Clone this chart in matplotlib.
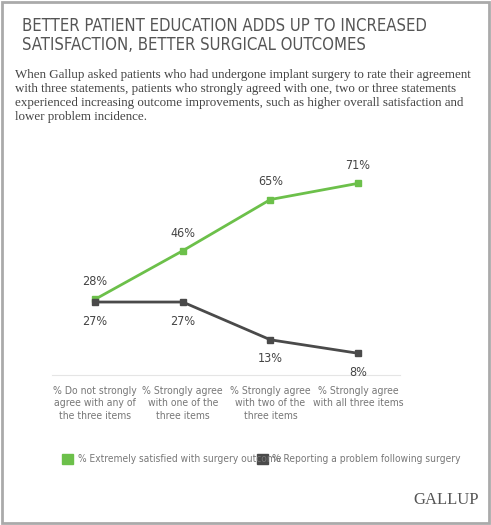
import matplotlib
matplotlib.use("Agg")
import matplotlib.pyplot as plt
from matplotlib.patches import Rectangle

categories = ["% Do not strongly\nagree with any of\nthe three items",
              "% Strongly agree\nwith one of the\nthree items",
              "% Strongly agree\nwith two of the\nthree items",
              "% Strongly agree\nwith all three items"]
satisfied = [28, 46, 65, 71]
problem = [27, 27, 13, 8]
green = "#6cc04a"
dark = "#4a4a4a"
NF = dict(family="DejaVu Sans", fontstretch="condensed")

fig = plt.figure(figsize=(4.91, 5.25), dpi=100)
fig.patches.append(Rectangle((0.004, 0.004), 0.992, 0.992, transform=fig.transFigure,
                             fill=False, edgecolor="#aaaaaa", lw=2))
fig.text(0.045, 0.968, "BETTER PATIENT EDUCATION ADDS UP TO INCREASED\nSATISFACTION, BETTER SURGICAL OUTCOMES",
         ha="left", va="top", fontsize=12, color="#555555", linespacing=1.1, **NF)
fig.text(0.03, 0.868, "When Gallup asked patients who had undergone implant surgery to rate their agreement\n"
         "with three statements, patients who strongly agreed with one, two or three statements\n"
         "experienced increasing outcome improvements, such as higher overall satisfaction and\n"
         "lower problem incidence.", ha="left", va="top", fontsize=9.4, color="#444444",
         family="Liberation Serif", linespacing=1.2)

ax = fig.add_axes([0.106, 0.286, 0.709, 0.411])
x = list(range(len(categories)))
ax.plot(x, satisfied, color=green, lw=2, marker="s", ms=5)
ax.plot(x, problem, color=dark, lw=2, marker="s", ms=5)
ax.set_xlim(-0.49, 3.48)
ax.set_ylim(0, 80)
for s in ["top", "right", "left"]:
    ax.spines[s].set_visible(False)
ax.spines["bottom"].set_color("#e5e5e5")
ax.set_yticks([])
ax.set_xticks([])
for i in x:
    ax.annotate(f"{satisfied[i]}%", (i, satisfied[i]), xytext=(0, 8), textcoords="offset points",
                ha="center", va="bottom", fontsize=9, color="#444444", **NF)
    ax.annotate(f"{problem[i]}%", (i, problem[i]), xytext=(0, -9), textcoords="offset points",
                ha="center", va="top", fontsize=9, color="#444444", **NF)
    ax.text(i, -4, categories[i], ha="center", va="top", fontsize=7.5, color="#777777",
            linespacing=1.35, **NF)

fig.patches.append(Rectangle((0.127, 0.116), 0.022, 0.02, transform=fig.transFigure, color=green))
fig.text(0.159, 0.126, "% Extremely satisfied with surgery outcome", fontsize=7.3, va="center",
         color="#777777", **NF)
fig.patches.append(Rectangle((0.523, 0.116), 0.022, 0.02, transform=fig.transFigure, color=dark))
fig.text(0.553, 0.126, "% Reporting a problem following surgery", fontsize=7.3, va="center",
         color="#777777", **NF)
fig.text(0.975, 0.04, "GALLUP", ha="right", fontsize=12, color="#555555", family="Liberation Serif")

fig.savefig("out.png", dpi=100)
